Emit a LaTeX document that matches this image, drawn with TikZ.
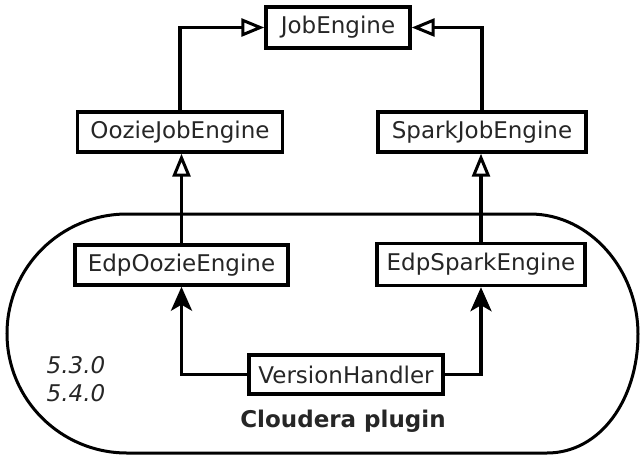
\documentclass[tikz,border=0pt]{standalone}
\usepackage{fontspec}
\setmainfont{DejaVu Sans}
\usetikzlibrary{arrows.meta}
\begin{document}
\begin{tikzpicture}[x=1pt,y=-1pt,
  every node/.style={font=\fontsize{23}{27}\selectfont, text=black!85},
  cls/.style={draw=black, line width=3.4pt, fill=white, inner sep=0pt},
  conn/.style={draw=black, line width=3.4pt},
  gen/.style={conn, -{Triangle[open, length=23pt, width=18pt, line width=3pt, fill=white]}},
  use/.style={conn, -{Stealth[length=24pt, width=21pt, inset=6pt]}}]
\useasboundingbox (0,0) rectangle (641,456);
% plugin boundary
\draw[line width=3pt] (127,214) -- (530,214)
  .. controls (590,214) and (638,270) .. (638,334)
  .. controls (638,400) and (600,453) .. (547,453)
  -- (127,453)
  .. controls (60.7,453) and (7,399.5) .. (7,333.5)
  .. controls (7,267.5) and (60.7,214) .. (127,214) -- cycle;
% classes
\node[cls, minimum width=144pt, minimum height=41pt] (job) at (338,27.5) {JobEngine};
\node[cls, minimum width=205pt, minimum height=40pt] (oozie) at (180,132) {OozieJobEngine};
\node[cls, minimum width=208pt, minimum height=40pt] (spark) at (482,132) {SparkJobEngine};
\node[cls, minimum width=213pt, minimum height=40pt] (edpoozie) at (181.5,265) {EdpOozieEngine};
\node[cls, minimum width=208pt, minimum height=42pt] (edpspark) at (481,264.5) {EdpSparkEngine};
\node[cls, minimum width=194pt, minimum height=39pt] (vh) at (346,374.5) {VersionHandler};
% labels
\node[anchor=base, font=\fontsize{23}{27}\selectfont\itshape] (v1) at (76,373) {5.3.0};
\node[anchor=base, font=\fontsize{23}{27}\selectfont\itshape] (v2) at (76,401) {5.4.0};
\node[anchor=base, font=\fontsize{23}{27}\selectfont\bfseries] (plugin) at (343,427) {Cloudera plugin};
% connectors
\draw[gen] (oozie.north) |- (job.west);
\draw[gen] (spark.north) |- (job.east);
\draw[gen] (edpoozie.north) -- (edpoozie.north |- oozie.south);
\draw[gen] (edpspark.north) -- (edpspark.north |- spark.south);
\draw[use] (vh.west) -| (edpoozie.south);
\draw[use] (vh.east) -| (edpspark.south);
\end{tikzpicture}
\end{document}
